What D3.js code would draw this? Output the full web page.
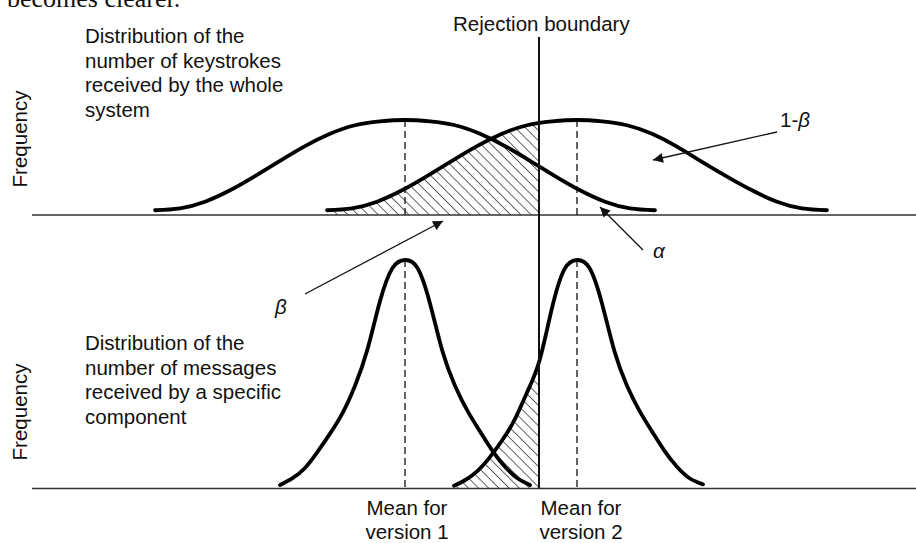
<!DOCTYPE html>
<html>
<head>
<meta charset="utf-8">
<script src="https://cdn.jsdelivr.net/npm/d3@7"></script>
<style>
  body { margin: 0; background: #fff; }
  text { font-family: "Liberation Sans", Arial, sans-serif; fill: #111; }
</style>
</head>
<body>
<script>
// x = count (arbitrary units), y = relative frequency (peak = 1)
// top panel: keystrokes received by the whole system
keysV1X = [30.75, 37, 43.25, 49.5, 55.75, 62, 68.25, 74.5, 80.75, 87, 93.25, 99.5, 105.75, 112, 118.25, 124.5, 130.75, 137, 143.25, 149.5, 155.75];
keysV1Y = [0.05, 0.07, 0.14, 0.26, 0.41, 0.57, 0.725, 0.855, 0.945, 0.985, 1, 0.985, 0.945, 0.855, 0.725, 0.57, 0.41, 0.26, 0.14, 0.07, 0.05];
keysV2X = [73.75, 80, 86.25, 92.5, 98.75, 105, 111.25, 117.5, 123.75, 130, 136.25, 142.5, 148.75, 155, 161.25, 167.5, 173.75, 180, 186.25, 192.5, 198.75];
keysV2Y = [0.05, 0.07, 0.14, 0.26, 0.41, 0.57, 0.725, 0.855, 0.945, 0.985, 1, 0.985, 0.945, 0.855, 0.72, 0.56, 0.405, 0.26, 0.14, 0.07, 0.05];

// bottom panel: messages received by a specific component
msgV1X = [62, 65.125, 68.25, 71.375, 74.5, 77.625, 80.75, 83.875, 87, 90.125, 93.25, 96.375, 99.5, 102.625, 105.75, 108.875, 112, 115.125, 118.25, 121.375, 124.5];
msgV1Y = [0.015, 0.045, 0.09, 0.16, 0.24, 0.33, 0.45, 0.61, 0.82, 0.965, 1, 0.965, 0.81, 0.6, 0.45, 0.34, 0.25, 0.165, 0.095, 0.045, 0.015];
msgV2X = [105.5, 108.125, 111.25, 114.375, 117.5, 120.625, 123.75, 126.875, 130, 133.125, 136.25, 139.375, 142.5, 145.625, 148.75, 151.875, 155, 158.125, 161.25, 164.375, 167.75];
msgV2Y = [0.012, 0.035, 0.075, 0.135, 0.21, 0.3, 0.42, 0.56, 0.79, 0.96, 1, 0.965, 0.81, 0.6, 0.45, 0.34, 0.25, 0.165, 0.095, 0.045, 0.018];

means = [93.25, 136.25];
boundary = 126.75;

topLines = ["Distribution of the", "number of keystrokes", "received by the whole", "system"];
bottomLines = ["Distribution of the", "number of messages", "received by a specific", "component"];
meanLabels = [["Mean for", "version 1"], ["Mean for", "version 2"]];

let W = 916, H = 543;
let fs = 20.5;

svg = d3.select("body").append("svg")
  .attr("width", W)
  .attr("height", H);

svg.append("rect").attr("width", W).attr("height", H).attr("fill", "#fff");

let defs = svg.append("defs");
defs.append("pattern")
  .attr("id", "hatch")
  .attr("patternUnits", "userSpaceOnUse")
  .attr("width", 7.2)
  .attr("height", 7.2)
  .attr("patternTransform", "rotate(-45)")
  .append("line")
  .attr("x1", 0).attr("y1", 0).attr("x2", 0).attr("y2", 7.2)
  .attr("stroke", "#111")
  .attr("stroke-width", 1.3);

defs.append("marker")
  .attr("id", "arrow")
  .attr("viewBox", "0 -5 10 10")
  .attr("refX", 10)
  .attr("refY", 0)
  .attr("markerUnits", "userSpaceOnUse")
  .attr("markerWidth", 15)
  .attr("markerHeight", 10)
  .attr("orient", "auto")
  .append("path")
  .attr("d", "M0,-5L10,0L0,5Z")
  .attr("fill", "#111");

let xScale = d3.scaleLinear().domain([0, 221]).range([32, 916]);
let yTop = d3.scaleLinear().domain([0, 1]).range([215, 120]);
let yBot = d3.scaleLinear().domain([0, 1]).range([488.5, 260]);

defs.append("clipPath").attr("id", "leftOfBoundary")
  .append("rect")
  .attr("x", 0).attr("y", 0)
  .attr("width", xScale(boundary)).attr("height", H);

// cut-off caption text from the page above
svg.append("text")
  .attr("x", 7).attr("y", 7)
  .style("font-family", "'Liberation Serif', 'Times New Roman', serif")
  .style("font-size", "26px")
  .text("becomes clearer.");

function zip(xs, ys) { return xs.map((x, i) => [x, ys[i]]); }

function panel(yScale, s1x, s1y, s2x, s2y) {
  let line = d3.line()
    .x(d => xScale(d[0]))
    .y(d => yScale(d[1]))
    .curve(d3.curveNatural);
  let area = d3.area()
    .x(d => xScale(d[0]))
    .y0(yScale(0))
    .y1(d => yScale(d[1]))
    .curve(d3.curveNatural);

  let d1 = zip(s1x, s1y), d2 = zip(s2x, s2y);

  // hatched region: version 2 below the rejection boundary
  svg.append("path")
    .attr("d", area(d2))
    .attr("fill", "url(#hatch)")
    .attr("clip-path", "url(#leftOfBoundary)");

  // axis
  svg.append("line")
    .attr("x1", xScale.range()[0]).attr("x2", xScale.range()[1])
    .attr("y1", yScale(0)).attr("y2", yScale(0))
    .attr("stroke", "#333")
    .attr("stroke-width", 1.5);

  // dashed mean lines
  svg.selectAll(null)
    .data(means)
    .enter()
    .append("line")
    .attr("x1", d => xScale(d)).attr("x2", d => xScale(d))
    .attr("y1", yScale(1)).attr("y2", yScale(0))
    .attr("stroke", "#111")
    .attr("stroke-width", 1.3)
    .attr("stroke-dasharray", "7,4");

  svg.selectAll(null)
    .data([d1, d2])
    .enter()
    .append("path")
    .attr("d", line)
    .attr("fill", "none")
    .attr("stroke", "#000")
    .attr("stroke-width", 3.8)
    .attr("stroke-linecap", "round");
}

panel(yTop, keysV1X, keysV1Y, keysV2X, keysV2Y);
panel(yBot, msgV1X, msgV1Y, msgV2X, msgV2Y);

// rejection boundary
svg.append("line")
  .attr("x1", xScale(boundary)).attr("x2", xScale(boundary))
  .attr("y1", 37).attr("y2", yBot(0))
  .attr("stroke", "#111")
  .attr("stroke-width", 2);

svg.append("text")
  .attr("x", 453).attr("y", 31)
  .style("font-size", fs + "px")
  .text("Rejection boundary");

// Frequency labels
[139, 412].forEach(cy => {
  svg.append("text")
    .attr("transform", `translate(27,${cy}) rotate(-90)`)
    .attr("text-anchor", "middle")
    .style("font-size", fs + "px")
    .text("Frequency");
});

// description blocks
function block(lines, y0) {
  svg.append("g").selectAll("text")
    .data(lines)
    .enter()
    .append("text")
    .attr("x", 85)
    .attr("y", (d, i) => y0 + i * 24.7)
    .style("font-size", fs + "px")
    .text(d => d);
}
block(topLines, 43);
block(bottomLines, 350);

// mean labels
svg.selectAll(null)
  .data(meanLabels)
  .enter()
  .append("text")
  .attr("text-anchor", "middle")
  .attr("x", (d, i) => xScale(means[i]) + (i == 0 ? 2 : 4))
  .style("font-size", fs + "px")
  .selectAll("tspan")
  .data(d => d)
  .enter()
  .append("tspan")
  .attr("x", function() { return d3.select(this.parentNode).attr("x"); })
  .attr("y", (d, i) => 515 + i * 23.5)
  .text(d => d);

// arrows
let arrows = [
  [305, 294, 443, 221],
  [777, 132, 653, 160],
  [643, 250, 600, 207]
];
svg.selectAll(null)
  .data(arrows)
  .enter()
  .append("line")
  .attr("x1", d => d[0]).attr("y1", d => d[1])
  .attr("x2", d => d[2]).attr("y2", d => d[3])
  .attr("stroke", "#111")
  .attr("stroke-width", 1.3)
  .attr("marker-end", "url(#arrow)");

svg.append("text")
  .attr("x", 275).attr("y", 314)
  .style("font-size", fs + "px")
  .style("font-style", "italic")
  .text("β");

svg.append("text")
  .attr("x", 653).attr("y", 258)
  .style("font-size", fs + "px")
  .style("font-style", "italic")
  .text("α");

let ob = svg.append("text")
  .attr("x", 780).attr("y", 127)
  .style("font-size", fs + "px");
ob.append("tspan").text("1-");
ob.append("tspan").style("font-style", "italic").text("β");
</script>
</body>
</html>
